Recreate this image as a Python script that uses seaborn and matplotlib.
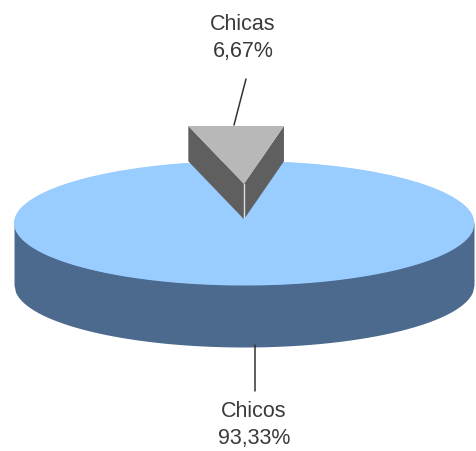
import numpy as np
import seaborn as sns
import matplotlib
matplotlib.use("Agg")
import matplotlib.pyplot as plt

categories = ["Chicas", "Chicos"]
shares = [6.67, 93.33]

top_colors = ["#b8b8b8", "#99ccff"]
wall_colors = ["#5f5f5f", "#4c6a8e"]

# geometria del pastel en pixeles de la imagen
W, H = 477, 452
CX, CY = 244, 224
RX, RY = 230, 62
DEPTH = 1.0       # grosor del pastel, en radios verticales
SLICE_DEPTH = 0.57
EXPLODE = 0.63
START = 80        # la porcion no queda centrada arriba
SLICE_TOP = 0.935  # la porcion se ve cortada en recto por arriba

sns.set_theme(style="white")
plt.rcParams["font.family"] = ["Liberation Sans", "DejaVu Sans"]


def px(x, y):
    # pasa de pixeles a coordenadas de los ejes
    return (x - CX) / RX, (CY - y) / RY


fig = plt.figure(figsize=(W / 100, H / 100), dpi=100)
ax = fig.add_axes([0, 0, 1, 1])

# pared del pastel grande y fondo azul bajo el hueco de la porcion
xs = np.linspace(-1, 1, 300)
ax.fill_between(xs, -np.sqrt(1 - xs ** 2) - DEPTH, 0, color=wall_colors[1], lw=0, zorder=1)
ax.fill_between(xs, -np.sqrt(1 - xs ** 2), np.sqrt(1 - xs ** 2), color=top_colors[1], lw=0, zorder=1.5)

wedges, _ = ax.pie(
    shares, colors=top_colors, startangle=START,
    radius=1, wedgeprops={"linewidth": 0},
)
wedges[1].set_zorder(2)
wedges[0].set_visible(False)
ax.set_aspect("auto")

# porcion separada: tapa recta y dos paredes
top_y = EXPLODE + SLICE_TOP
end = START + shares[0] / 100 * 360
corners = [np.cos(np.radians(START)), np.cos(np.radians(end))]
for sx in corners:
    ax.fill(
        [0, sx, sx, 0],
        [EXPLODE, top_y, top_y - SLICE_DEPTH, EXPLODE - SLICE_DEPTH],
        color=wall_colors[0], lw=0, zorder=4,
    )
ax.fill([0, corners[0], corners[1]], [EXPLODE, top_y, top_y], color=top_colors[0], lw=0, zorder=5)
ax.plot([0, 0], [EXPLODE, EXPLODE - SLICE_DEPTH * 0.95], color="#d8dfe8", lw=1, zorder=6)

# lineas guia
x1, y1 = px(246, 80)
x2, y2 = px(234, 126)
ax.plot([x1, x2], [y1, y2], color="#333333", lw=1.1, zorder=6)
x1, y1 = px(255, 346)
x2, y2 = px(255, 392)
ax.plot([x1, x2], [y1, y2], color="#333333", lw=1.1, zorder=6)

# etiquetas
label_pos = [(243, 38), (254, 425)]
for name, value, (lx, ly) in zip(categories, shares, label_pos):
    tx, ty = px(lx, ly)
    label = name + "\n" + f"{value:.2f}".replace(".", ",") + "%"
    ax.text(tx, ty, label, ha="center", va="center", fontsize=15.5,
            color="#3a3a3a", linespacing=1.35, zorder=7)

ax.set_xlim(-CX / RX, (W - CX) / RX)
ax.set_ylim((CY - H) / RY, CY / RY)
ax.axis("off")

fig.savefig("out.png", dpi=100, facecolor="white")
